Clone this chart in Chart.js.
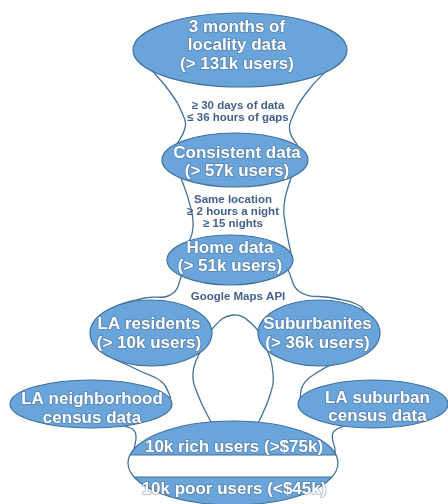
<!DOCTYPE html>
<html>
<head>
<meta charset="utf-8">
<script src="https://cdn.jsdelivr.net/npm/chart.js@4"></script>
<style>
  html, body { margin: 0; padding: 0; background: #fff; }
  #wrap { width: 448px; height: 504px; }
</style>
</head>
<body>
<div id="wrap"><canvas id="flow" width="448" height="504"></canvas></div>
<script>
// filtering steps and the user counts left after each one
const nodeNames = [
  ['3 months of', 'locality data'],
  ['Consistent data'],
  ['Home data'],
  ['LA residents'],
  ['Suburbanites'],
  ['LA neighborhood', 'census data'],
  ['LA suburban', 'census data']
];
const nodeUsers = [131, 57, 51, 10, 36, null, null];   // thousands
const edgeLabels = [
  ['≥ 30 days of data', '≤ 36 hours of gaps'],
  ['Same location', '≥ 2 hours a night', '≥ 15 nights'],
  ['Google Maps API']
];
const splitCounts = [10, 10];                 // thousands
const splitGroups = ['rich', 'poor'];
const splitIncome = ['>$75k', '<$45k'];

// diagram layout, in chart units
const nodeX  = [240, 235, 230, 151, 319, 91, 373];
const nodeY  = [50, 160, 260, 333, 333, 404, 404];
const nodeRX = [107, 73, 63, 61, 61, 81, 75];
const nodeRY = [37, 27, 25, 33, 33, 24, 24];
const textDx = [-3, 2, 0, -2, -1.5, 1, 4.5];
const textDy = [-4.5, 2.5, -2.5, 1, 1, 5, 3.5];
const splitNode = { x: 233, y: 463, rx: 105, ry: 42, bandTop: 455, bandBottom: 477 };
const edgeLabelX = [238, 233, 238];
const edgeLabelY = [106, 200, 297];

const connectors = [
  [[148, 66], [170, 92], [183, 115], [185, 128], [176, 146]],
  [[331, 66], [307, 92], [292, 118], [290, 132], [298, 146]],
  [[180, 175], [190, 205], [193, 228], [187, 247]],
  [[292, 174], [284, 205], [286, 228], [291, 253]],
  [[183, 272], [172, 294], [145, 298], [112, 308], [102, 319]],
  [[288, 270], [300, 292], [333, 298], [360, 306], [370, 321]],
  [[213, 426], [198, 395], [193, 373], [201, 350], [212, 329], [233, 315],
   [253, 325], [265, 345], [273, 373], [270, 395], [257, 426]],
  [[112, 358], [140, 371], [162, 382], [171, 398]],
  [[345, 358], [318, 372], [303, 385], [300, 400]],
  [[122, 425], [135, 432], [134, 450], [132, 468]],
  [[346, 425], [333, 433], [335, 450], [336, 468]]
];

const FILL = '#69a5da';
const EDGE = '#41719c';
const LABEL = '#44618c';
const FONT = '"Liberation Sans", Arial, sans-serif';

function nodeLines(i) {
  const lines = nodeNames[i].slice();
  if (nodeUsers[i] != null) lines.push('(> ' + nodeUsers[i] + 'k users)');
  return lines;
}

function whiteText(ctx, lines, cx, cy, lh) {
  ctx.save();
  ctx.font = 'bold 17px ' + FONT;
  ctx.textAlign = 'center';
  ctx.textBaseline = 'middle';
  ctx.lineJoin = 'round';
  const y0 = cy - (lines.length - 1) * lh / 2;
  lines.forEach((t, k) => {
    ctx.strokeStyle = 'rgba(70,90,120,0.45)';
    ctx.lineWidth = 1.6;
    ctx.strokeText(t, cx, y0 + k * lh);
    ctx.fillStyle = '#fff';
    ctx.fillText(t, cx, y0 + k * lh);
  });
  ctx.restore();
}

const diagramPlugin = {
  id: 'diagram',
  afterDatasetsDraw(chart) {
    const { ctx, scales: { x, y } } = chart;
    const px = v => x.getPixelForValue(v);
    const py = v => y.getPixelForValue(v);
    const meta = chart.getDatasetMeta(0);

    meta.data.forEach((pt, i) => {
      const rx = Math.abs(px(nodeX[i] + nodeRX[i]) - pt.x);
      const ry = Math.abs(py(nodeY[i] + nodeRY[i]) - pt.y);
      ctx.save();
      ctx.beginPath();
      ctx.ellipse(pt.x, pt.y, rx, ry, 0, 0, Math.PI * 2);
      ctx.fillStyle = FILL;
      ctx.fill();
      ctx.lineWidth = 1.2;
      ctx.strokeStyle = EDGE;
      ctx.stroke();
      ctx.restore();
      whiteText(ctx, nodeLines(i), px(nodeX[i] + textDx[i]), py(nodeY[i] + textDy[i]), 18.5);
    });

    // final split: rich / poor
    const s = splitNode;
    const sx = px(s.x), sy = py(s.y);
    const srx = Math.abs(px(s.x + s.rx) - sx), sry = Math.abs(py(s.y + s.ry) - sy);
    const bt = py(s.bandTop), bb = py(s.bandBottom);
    ctx.save();
    ctx.beginPath();
    ctx.ellipse(sx, sy, srx, sry, 0, 0, Math.PI * 2);
    ctx.fillStyle = FILL;
    ctx.fill();
    ctx.save();
    ctx.clip();
    ctx.fillStyle = '#fff';
    ctx.fillRect(sx - srx - 2, bt, srx * 2 + 4, bb - bt);
    ctx.beginPath();
    ctx.moveTo(sx - srx - 2, bt); ctx.lineTo(sx + srx + 2, bt);
    ctx.moveTo(sx - srx - 2, bb); ctx.lineTo(sx + srx + 2, bb);
    ctx.lineWidth = 1.2;
    ctx.strokeStyle = EDGE;
    ctx.stroke();
    ctx.restore();
    ctx.beginPath();
    ctx.ellipse(sx, sy, srx, sry, 0, 0, Math.PI * 2);
    ctx.lineWidth = 1.2;
    ctx.strokeStyle = EDGE;
    ctx.stroke();
    ctx.restore();
    splitGroups.forEach((g, k) => {
      const t = splitCounts[k] + 'k ' + g + ' users (' + splitIncome[k] + ')';
      whiteText(ctx, [t], sx + 1, k === 0 ? py(447) : py(489), 18);
    });

    // filter criteria between the steps
    ctx.save();
    ctx.font = 'bold 11.5px ' + FONT;
    ctx.fillStyle = LABEL;
    ctx.textAlign = 'center';
    ctx.textBaseline = 'middle';
    edgeLabels.forEach((lines, i) => {
      lines.forEach((t, k) => ctx.fillText(t, px(edgeLabelX[i]), py(edgeLabelY[i]) + k * 12));
    });
    ctx.restore();
  }
};

const datasets = [{
  label: 'steps',
  data: nodeX.map((v, i) => ({ x: v, y: nodeY[i] })),
  pointRadius: 0,
  showLine: false
}].concat(connectors.map((pts, i) => ({
  label: 'link' + i,
  data: pts.map(p => ({ x: p[0], y: p[1] })),
  showLine: true,
  tension: 0.45,
  borderColor: EDGE,
  borderWidth: 1.3,
  pointRadius: 0,
  fill: false
})));

new Chart(document.getElementById('flow').getContext('2d'), {
  type: 'scatter',
  data: { datasets },
  options: {
    responsive: false,
    animation: false,
    devicePixelRatio: 1,
    layout: { padding: 0 },
    plugins: { legend: { display: false }, tooltip: { enabled: false } },
    scales: {
      x: { type: 'linear', min: 0, max: 448, display: false },
      y: { type: 'linear', min: 0, max: 504, reverse: true, display: false }
    }
  },
  plugins: [diagramPlugin]
});
</script>
</body>
</html>
